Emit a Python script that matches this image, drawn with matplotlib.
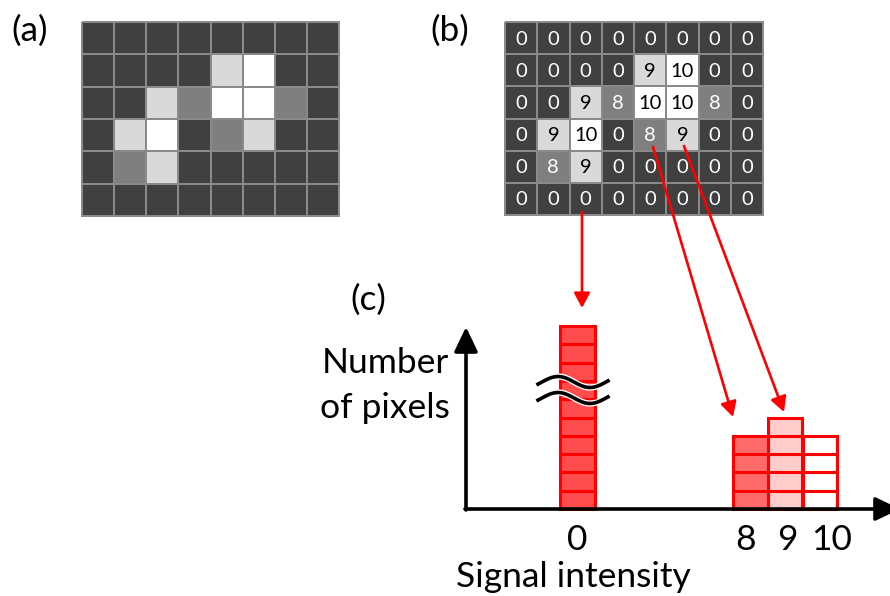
import numpy as np
import matplotlib
matplotlib.use("Agg")
import matplotlib.pyplot as plt
from matplotlib.colors import ListedColormap
import matplotlib.patheffects as pe

plt.rcParams['font.family'] = ['Lato', 'DejaVu Sans']

# ---- data ----
image_values = [
    [0, 0, 0, 0, 0, 0, 0, 0],
    [0, 0, 0, 0, 9, 10, 0, 0],
    [0, 0, 9, 8, 10, 10, 8, 0],
    [0, 9, 10, 0, 8, 9, 0, 0],
    [0, 8, 9, 0, 0, 0, 0, 0],
    [0, 0, 0, 0, 0, 0, 0, 0],
]
levels = [0, 8, 9, 10]
cell_colors = ['#404040', '#7f7f7f', '#d9d9d9', '#ffffff']
text_colors = ['#ffffff', '#ffffff', '#000000', '#000000']
hist_labels = ['0', '8', '9', '10']
hist_counts = [35, 4, 5, 4]
bar_colors = ['#ff4d4d', '#ff6b6b', '#ffcccc', '#ffffff']
max_visible = 10  # broken axis: bar for 0 is truncated

W, H = 890, 596
fig = plt.figure(figsize=(W / 100, H / 100), dpi=100)
ax = fig.add_axes([0, 0, 1, 1])
ax.set_xlim(0, W)
ax.set_ylim(H, 0)
ax.axis('off')

img = np.array(image_values)
idx = np.vectorize(levels.index)(img)
cmap = ListedColormap(cell_colors)


def draw_grid(x0, x1, y0, y1, with_text):
    nr, nc = img.shape
    xs = np.linspace(x0, x1, nc + 1)
    ys = np.linspace(y0, y1, nr + 1)
    ax.pcolormesh(xs, ys, idx, cmap=cmap, vmin=-0.5, vmax=3.5,
                  edgecolors='#8a8a8a', linewidth=1.3)
    if with_text:
        for r in range(nr):
            for c in range(nc):
                v = img[r, c]
                ax.text((xs[c] + xs[c + 1]) / 2, (ys[r] + ys[r + 1]) / 2 + 1,
                        str(v), ha='center', va='center', fontsize=14.5,
                        color=text_colors[levels.index(v)])


draw_grid(82, 339, 22, 216, False)
draw_grid(505, 763, 22, 215, True)

FS = 25.5
# panel labels
ax.text(11, 31, '(a)', fontsize=FS, ha='left', va='center')
ax.text(430, 31, '(b)', fontsize=FS, ha='left', va='center')
ax.text(350, 300, '(c)', fontsize=FS, ha='left', va='center')
ax.text(385, 363, 'Number', fontsize=FS, ha='center', va='center')
ax.text(385, 408, 'of pixels', fontsize=FS, ha='center', va='center')

# histogram
base = 509
seg = 18.3
bar_x = [577, 750, 785, 820]
bar_w = [35, 35, 34, 34]
for i, cnt in enumerate(hist_counts):
    n = min(cnt, max_visible)
    for k in range(n):
        ax.bar(bar_x[i], -seg, bottom=base - k * seg, width=bar_w[i],
               facecolor=bar_colors[i], edgecolor='#ff0000', linewidth=2.2,
               zorder=3)

label_dx = [0, -4, 2, 12]
for i, lab in enumerate(hist_labels):
    ax.text(bar_x[i] + label_dx[i], 540, lab, fontsize=FS, ha='center', va='center')
ax.text(456, 577, 'Signal intensity', fontsize=FS, ha='left', va='center')

# axes arrows
arrow_kw = dict(arrowstyle='-|>,head_width=0.36,head_length=0.75',
                color='black', lw=2.6, mutation_scale=20, shrinkA=0, shrinkB=0)
ax.annotate('', xy=(466, 327), xytext=(466, 510), arrowprops=arrow_kw,
            zorder=5, annotation_clip=False)
ax.annotate('', xy=(900, 509), xytext=(465, 509), arrowprops=arrow_kw,
            zorder=5, annotation_clip=False)

# break symbol
xw = np.linspace(538, 608, 100)
for yc in (382, 398):
    yw = yc - 5.5 * np.sin(2 * np.pi * (xw - 542) / 64)
    ax.plot(xw, yw, color='black', lw=2.6, zorder=6,
            path_effects=[pe.Stroke(linewidth=4.5, foreground='white'), pe.Normal()])

# red arrows from image to histogram
red_arrows = [((582, 212), (582, 308)), ((653, 147), (733, 417)), ((684, 146), (784, 412))]
for (x0, y0), (x1, y1) in red_arrows:
    ax.annotate('', xy=(x1, y1), xytext=(x0, y0),
                arrowprops=dict(arrowstyle='-|>,head_width=0.24,head_length=0.45',
                                color='#ff0000', lw=1.9, mutation_scale=20,
                                shrinkA=0, shrinkB=0), zorder=7)

fig.savefig('out.png', dpi=100)
